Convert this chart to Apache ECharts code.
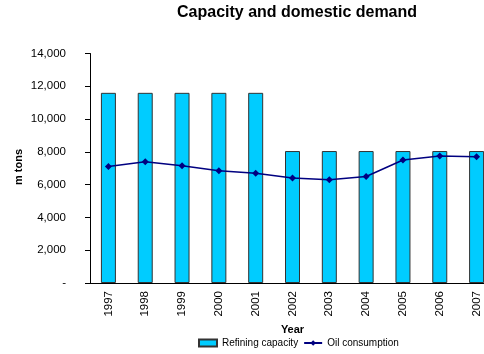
<!DOCTYPE html>
<html><head><meta charset="utf-8">
<script src="https://cdn.jsdelivr.net/npm/echarts@6/dist/echarts.min.js"></script>
<style>html,body{margin:0;padding:0;background:#fff}#c{width:484px;height:354px}</style>
</head><body><div id="c"></div>
<script>
const years = ['1997','1998','1999','2000','2001','2002','2003','2004','2005','2006','2007'];
const refiningCapacity = [11600,11600,11600,11600,11600,8050,8050,8050,8050,8050,8050];
const oilConsumption = [7100,7400,7150,6850,6700,6400,6300,6500,7500,7750,7700];
const yTicks = {min:0, max:14000, interval:2000};

const font = '"Liberation Sans", Arial, sans-serif';
const chart = echarts.init(document.getElementById('c'), null, {renderer:'canvas'});
chart.setOption({
  animation:false,
  backgroundColor:'#fff',
  textStyle:{fontFamily:font},
  title:{text:'Capacity and domestic demand', left:177, top:5, padding:0,
    textStyle:{fontFamily:font,fontSize:16,fontWeight:'bold',color:'#000'}},
  grid:{left:90, top:53.5, width:405, height:229.5, outerBoundsMode:'none', containLabel:false},
  legend:{bottom:6, left:198, padding:0, itemWidth:18, itemHeight:7, itemGap:5,
    textStyle:{fontFamily:font,fontSize:10,color:'#000'},
    data:[{name:'Refining capacity', icon:'rect'}, {name:'Oil consumption'}]},
  xAxis:{type:'category', data:years,
    name:'Year', nameLocation:'middle', nameGap:40,
    nameTextStyle:{fontFamily:font,fontSize:11,fontWeight:'bold',color:'#000'},
    axisLine:{lineStyle:{color:'#000',width:1}},
    axisTick:{show:false},
    axisLabel:{rotate:90, margin:8, fontFamily:font, fontSize:11.5, color:'#000'}},
  yAxis:{type:'value', min:yTicks.min, max:yTicks.max, interval:yTicks.interval,
    splitLine:{show:false},
    axisLine:{show:true, lineStyle:{color:'#000',width:1}},
    axisTick:{show:true, length:5, lineStyle:{color:'#000'}},
    axisLabel:{margin:24, fontFamily:font, fontSize:11.5, color:'#000',
      formatter:v=> v===0 ? '-' : v.toLocaleString('en-US')}},
  graphic:[{type:'text', left:13, top:149, rotation:Math.PI/2,
    style:{text:'m tons', font:'bold 11px '+font, fill:'#000'}}],
  series:[
    {name:'Refining capacity', type:'bar', data:refiningCapacity, barWidth:15,
     itemStyle:{color:'#00CCFF', borderColor:'#333', borderWidth:1}},
    {name:'Oil consumption', type:'line', data:oilConsumption,
     symbol:'diamond', symbolSize:7,
     lineStyle:{color:'#000080',width:1.5}, itemStyle:{color:'#000080'}}
  ]
});
</script></body></html>
